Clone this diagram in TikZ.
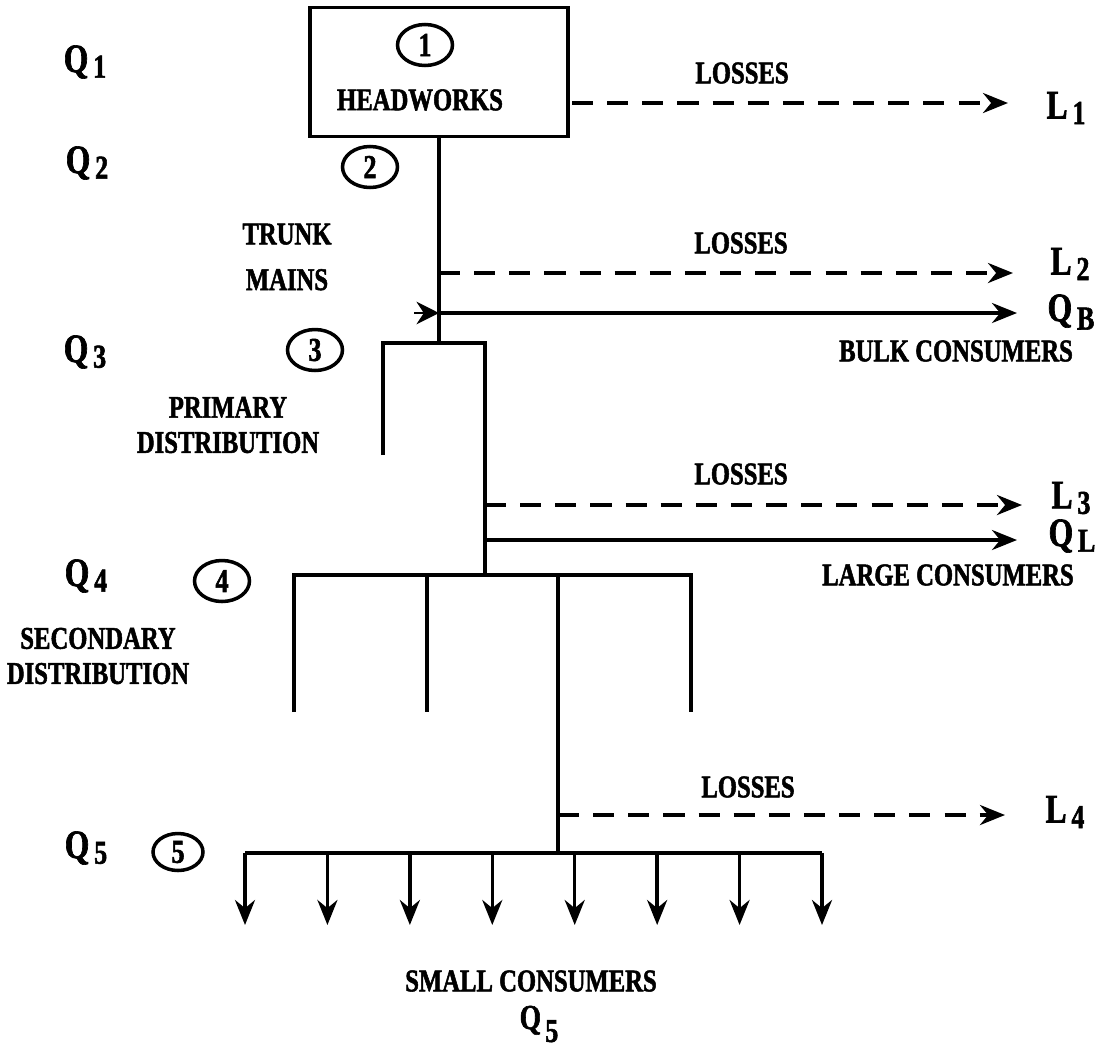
\documentclass[tikz,border=0pt]{standalone}
\usepackage{fontspec}
\setmainfont{Liberation Serif}[FakeStretch=0.78,BoldFeatures={FakeBold=1.6}]
\usetikzlibrary{arrows.meta,shapes.geometric}
\newcommand{\qsub}[3][0.3ex]{#2\hspace{0.12em}\raisebox{-#1}{\fontsize{19}{19}\selectfont #3}}

\begin{document}
\begin{tikzpicture}[x=0.02cm,y=-0.02cm,
  lbl/.style={font=\fontsize{18}{20}\selectfont\bfseries,inner sep=0pt,align=center},
  qlbl/.style={font=\fontsize{23}{23}\selectfont\bfseries,inner sep=0pt},
  num/.style={draw,ellipse,line width=2pt,minimum width=1.1cm,minimum height=0.82cm,inner sep=0pt,font=\fontsize{19}{19}\selectfont\bfseries},
  pipe/.style={line width=2pt},
  loss/.style={line width=2.2pt,dash pattern=on 12pt off 8pt,-{Stealth[length=5mm,width=4mm]}},
  flow/.style={line width=2pt,-{Stealth[length=5mm,width=4mm]}}]
\useasboundingbox (0,0) rectangle (1101,1052);

% headworks
\node[draw,line width=1.8pt,minimum width=5.16cm,minimum height=2.58cm] (head) at (439,72) {};
\node[num] (n1) at (425,45) {1};
\node[lbl] (hw) at (420,100) {HEADWORKS};

% flow labels on the left
\node[qlbl] (q1) at (85,62) {\qsub{Q}{1}};
\node[qlbl] (q2) at (87,163) {\qsub{Q}{2}};
\node[qlbl] (q3) at (85,352) {\qsub{Q}{3}};
\node[qlbl] (q4) at (86,576) {\qsub{Q}{4}};
\node[qlbl] (q5) at (86,848) {\qsub{Q}{5}};
\node[num] (n2) at (370,167) {2};
\node[num] (n3) at (315,350) {3};
\node[num] (n4) at (222,581) {4};
\node[num,minimum width=1.0cm,minimum height=0.74cm] (n5) at (178,852) {5};

\node[lbl] (trunk) at (287,257) {TRUNK\\[6pt]MAINS};
\node[lbl] (prim) at (228,425) {PRIMARY\\DISTRIBUTION};
\node[lbl] (sec) at (98,656) {SECONDARY\\DISTRIBUTION};

% losses and consumers on the right
\node[lbl] (loss1) at (742,73) {LOSSES};
\node[lbl] (loss2) at (741,243) {LOSSES};
\node[lbl] (loss3) at (741,474) {LOSSES};
\node[lbl] (loss4) at (748,787) {LOSSES};
\node[qlbl] (l1) at (1066,108) {\qsub{L}{1}};
\node[qlbl] (l2) at (1070,264) {\qsub{L}{2}};
\node[qlbl] (qb) at (1071,312) {\qsub[0.45ex]{Q}{B}};
\node[qlbl] (l3) at (1071,498) {\qsub{L}{3}};
\node[qlbl] (ql) at (1072,536) {\qsub{Q}{L}};
\node[qlbl] (l4) at (1065,812) {\qsub{L}{4}};
\node[lbl] (bulk) at (956,351) {BULK CONSUMERS};
\node[lbl] (large) at (948,575) {LARGE CONSUMERS};
\node[lbl] (small) at (531,981) {SMALL CONSUMERS};
\node[qlbl,font=\fontsize{20}{20}\selectfont\bfseries] (q5b) at (539,1024) {\qsub[0.8ex]{Q}{5}};

% network points
\coordinate (h1) at (572,103);
\coordinate (e1) at (1008,103);
\coordinate (t2) at (439,273);
\coordinate (e2) at (1013,273);
\coordinate (tb) at (439,313);
\coordinate (eb) at (1017,313);
\coordinate (ab) at (414,313);
\coordinate (t3) at (439,343);
\coordinate (p1) at (383,455);
\coordinate (p2) at (383,343);
\coordinate (p3) at (485,343);
\coordinate (p4) at (485,575);
\coordinate (p5) at (485,505);
\coordinate (e3) at (1022,505);
\coordinate (p6) at (485,540);
\coordinate (el) at (1017,540);
\coordinate (s1) at (294,712);
\coordinate (s2) at (294,575);
\coordinate (s3) at (691,575);
\coordinate (s4) at (691,712);
\coordinate (s5) at (427,575);
\coordinate (s6) at (427,712);
\coordinate (s7) at (558,575);
\coordinate (s8) at (558,853);
\coordinate (s9) at (558,815);
\coordinate (e4) at (1005,815);
\coordinate (r1) at (245,853);
\coordinate (r2) at (822,853);

% pipes
\draw[pipe] (head.south) -- (t3);
\draw[loss] (h1) -- (e1);
\draw[loss] (t2) -- (e2);
\draw[flow] (tb) -- (eb);
\draw[-{Stealth[length=4.5mm,width=4.5mm]},line width=1.5pt] (ab) -- (tb);
\draw[pipe] (p1) -- (p2) -- (p3) -- (p4);
\draw[loss] (p5) -- (e3);
\draw[flow] (p6) -- (el);
\draw[pipe] (s1) -- (s2) -- (s3) -- (s4);
\draw[pipe] (s5) -- (s6);
\draw[pipe] (s7) -- (s8);
\draw[loss] (s9) -- (e4);
\draw[pipe] (r1) -- (r2);
\foreach \i in {0,...,7}{
  \coordinate (c\i) at ({245+82.43*\i},853);
  \coordinate (d\i) at ({245+82.43*\i},925);
  \draw[flow] (c\i) -- (d\i);
}
\end{tikzpicture}
\end{document}
